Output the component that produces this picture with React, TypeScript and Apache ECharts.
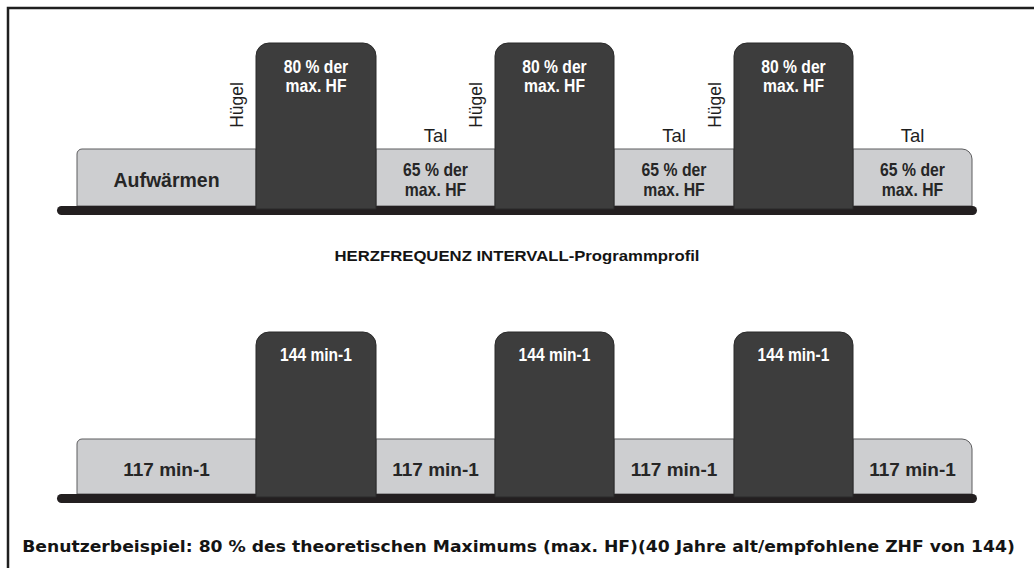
import React, { useEffect, useRef } from "react";
import * as echarts from "echarts";

// ---- Data ----
const segmentNames = ["Aufwärmen", "Hügel", "Tal", "Hügel", "Tal", "Hügel", "Tal"];
const segmentDurations = [3, 2, 2, 2, 2, 2, 2];
const intensityPercent = [65, 80, 65, 80, 65, 80, 65];
const heartRateBpm = [117, 144, 117, 144, 117, 144, 117];
const intensityLabels = [
  "Aufwärmen",
  "80 % der\nmax. HF",
  "65 % der\nmax. HF",
  "80 % der\nmax. HF",
  "65 % der\nmax. HF",
  "80 % der\nmax. HF",
  "65 % der\nmax. HF",
];
const heartRateLabels = ["117 min-1", "144 min-1", "117 min-1", "144 min-1", "117 min-1", "144 min-1", "117 min-1"];
const profileTitle = "HERZFREQUENZ INTERVALL-Programmprofil";
const exampleCaption =
  "Benutzerbeispiel: 80 % des theoretischen Maximums (max. HF)(40 Jahre alt/empfohlene ZHF von 144)";

// ---- Styles ----
const LIGHT = "#cdced0";
const LIGHT_STROKE = "#5c5c5e";
const DARK = "#3d3d3d";
const DARK_STROKE = "#2a2a2a";
const BASE = "#231f20";
const TEXT_DARK = "#262626";
const FONT = "'Liberation Sans', Arial, sans-serif";
const FONT_WIDE = "'DejaVu Sans', 'Liberation Sans', sans-serif";

function fitScale(text: string, font: string, target: number): number {
  const ctx = document.createElement("canvas").getContext("2d");
  if (!ctx) return 1;
  ctx.font = font;
  const w = Math.max(...text.split("\n").map((t) => ctx.measureText(t).width));
  return w > 0 ? target / w : 1;
}

function buildRows(values: number[]) {
  let acc = 0;
  return segmentDurations.map((d, i) => {
    const row = [acc, acc + d, values[i], i];
    acc += d;
    return row;
  });
}

function makeRenderItem(panel: "top" | "bottom") {
  return (params: any, api: any) => {
    const idx = api.value(3) as number;
    const start = api.value(0);
    const end = api.value(1);
    const v = api.value(2);
    const cs = params.coordSys;
    const bottom = cs.y + cs.height;
    const p0 = api.coord([start, v]);
    const p1 = api.coord([end, v]);
    const x0 = Math.round(p0[0]);
    const x1 = Math.round(p1[0]);
    const top = Math.round(p0[1]);
    const cx = (x0 + x1) / 2;
    const name = segmentNames[idx];
    const hill = name === "Hügel";
    const last = idx === segmentNames.length - 1;
    const label = panel === "top" ? intensityLabels[idx] : heartRateLabels[idx];
    const children: any[] = [];

    if (idx === 0) {
      children.push({
        type: "rect",
        z2: 3,
        shape: { x: cs.x, y: bottom, width: cs.width, height: 9, r: 4.5 },
        style: { fill: BASE },
      });
    }

    if (hill) {
      children.push({
        type: "rect",
        z2: 5,
        shape: { x: x0, y: top, width: x1 - x0, height: bottom + 3 - top, r: [13, 13, 0, 0] },
        style: { fill: DARK, stroke: DARK_STROKE, lineWidth: 1 },
      });
      const f = panel === "top" ? "bold 18px " + FONT : "bold 19px " + FONT;
      children.push({
        type: "text",
        z2: 6,
        x: cx,
        y: top + (panel === "top" ? 14.5 : 13),
        scaleX: panel === "top" ? 0.87 : 0.82,
        style: {
          text: label,
          x: 0,
          y: 0,
          textAlign: "center",
          textVerticalAlign: "top",
          font: f,
          lineHeight: 19,
          fill: "#ffffff",
        },
      });
      if (panel === "top") {
        children.push({
          type: "text",
          z2: 6,
          x: x0 - 19,
          y: top + 62,
          rotation: Math.PI / 2,
          style: {
            text: name,
            x: 0,
            y: 0,
            textAlign: "center",
            textVerticalAlign: "middle",
            font: "17.5px " + FONT,
            fill: "#1e1e1e",
          },
        });
      }
    } else {
      const r = idx === 0 ? [5, 0, 0, 0] : last ? [0, 10, 0, 0] : 0;
      children.push({
        type: "rect",
        z2: 2,
        shape: { x: x0, y: top, width: x1 - x0, height: bottom - top, r },
        style: { fill: LIGHT, stroke: LIGHT_STROKE, lineWidth: 1 },
      });
      const multi = label.indexOf("\n") >= 0;
      children.push({
        type: "text",
        z2: 6,
        x: cx,
        y: (top + bottom) / 2 + (panel === "top" ? 2 : 3),
        scaleX: multi ? 0.83 : 1,
        style: {
          text: label,
          x: 0,
          y: 0,
          textAlign: "center",
          textVerticalAlign: "middle",
          font: (idx === 0 && panel === "top" ? "bold 19.5px " : "bold 19px ") + FONT,
          lineHeight: 20,
          fill: TEXT_DARK,
        },
      });
      if (panel === "top" && name === "Tal") {
        children.push({
          type: "text",
          z2: 6,
          x: cx,
          y: top - 4,
          style: {
            text: name,
            x: 0,
            y: 0,
            textAlign: "center",
            textVerticalAlign: "bottom",
            font: "18.5px " + FONT,
            fill: "#1e1e1e",
          },
        });
      }
    }
    return { type: "group", children };
  };
}

export default function App() {
  const ref = useRef<HTMLDivElement>(null);
  useEffect(() => {
    if (!ref.current) return;
    const chart = echarts.init(ref.current, undefined, { renderer: "svg" });
    const titleFont = "bold 15.5px " + FONT;
    const captionFont = "bold 16px " + FONT_WIDE;
    const titleScale = fitScale(profileTitle, titleFont, 365);
    const captionScale = fitScale(exampleCaption, captionFont, 993);

    const totalDuration = segmentDurations.reduce((a, b) => a + b, 0);

    chart.setOption({
      animation: false,
      backgroundColor: "#ffffff",
      grid: [
        { left: 57, width: 920, top: 29, height: 177 },
        { left: 57, width: 920, top: 316, height: 178 },
      ],
      xAxis: [
        { type: "value", gridIndex: 0, min: -0.34, max: totalDuration + 0.08, show: false },
        { type: "value", gridIndex: 1, min: -0.34, max: totalDuration + 0.08, show: false },
      ],
      yAxis: [
        { type: "value", gridIndex: 0, min: 57, max: 82, show: false },
        { type: "value", gridIndex: 1, min: 103, max: 148, show: false },
      ],
      series: [
        {
          type: "custom",
          name: "Intensität",
          xAxisIndex: 0,
          yAxisIndex: 0,
          renderItem: makeRenderItem("top"),
          data: buildRows(intensityPercent),
          silent: true,
        },
        {
          type: "custom",
          name: "Herzfrequenz",
          xAxisIndex: 1,
          yAxisIndex: 1,
          renderItem: makeRenderItem("bottom"),
          data: buildRows(heartRateBpm),
          silent: true,
        },
      ],
      graphic: [
        {
          type: "rect",
          silent: true,
          shape: { x: 8, y: 8, width: 1100, height: 700 },
          style: { fill: "none", stroke: "#1f1f1f", lineWidth: 2.5 },
        },
        {
          type: "text",
          x: 517,
          y: 255,
          scaleX: titleScale,
          style: {
            text: profileTitle,
            x: 0,
            y: 0,
            textAlign: "center",
            textVerticalAlign: "middle",
            font: titleFont,
            fill: "#141414",
          },
        },
        {
          type: "text",
          x: 518.5,
          y: 547,
          scaleX: captionScale,
          style: {
            text: exampleCaption,
            x: 0,
            y: 0,
            textAlign: "center",
            textVerticalAlign: "middle",
            font: captionFont,
            fill: "#141414",
          },
        },
      ],
    });
    return () => chart.dispose();
  }, []);
  return (
    <div
      ref={ref}
      style={{ position: "absolute", left: 0, top: 0, width: 1034, height: 568, background: "#fff" }}
    />
  );
}
